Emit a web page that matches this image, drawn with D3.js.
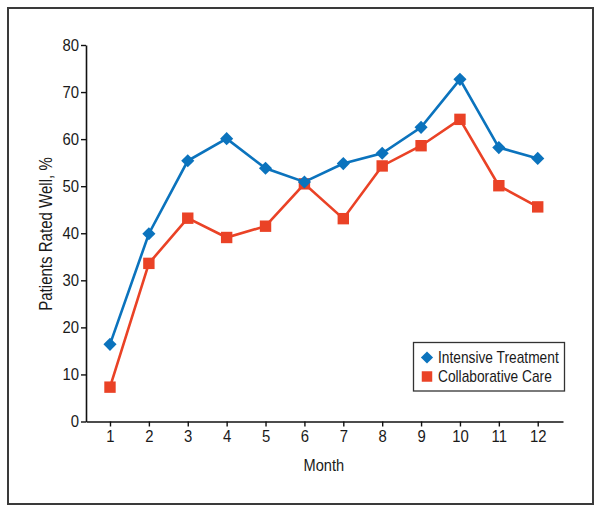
<!DOCTYPE html>
<html>
<head>
<meta charset="utf-8">
<script src="https://cdn.jsdelivr.net/npm/d3@7"></script>
<style>
  html, body { margin: 0; padding: 0; background: #fff; }
  svg text { font-family: "Liberation Sans", Arial, sans-serif; fill: #1a1a1a; }
</style>
</head>
<body>
<svg id="chart" width="602" height="513"></svg>
<script>
const months = [1, 2, 3, 4, 5, 6, 7, 8, 9, 10, 11, 12];
const intensive = [16.4, 39.9, 55.4, 60.1, 53.8, 50.9, 54.8, 57.0, 62.5, 72.7, 58.2, 55.9];
const collaborative = [7.3, 33.6, 43.2, 39.1, 41.5, 50.5, 43.1, 54.3, 58.6, 64.2, 50.1, 45.6];
const yTicks = [0, 10, 20, 30, 40, 50, 60, 70, 80];
const seriesNames = ["Intensive Treatment", "Collaborative Care"];
const colors = ["#0b73bd", "#ea4226"];
const SX = 0.86;   // horizontal condensing of titles/legend
const SXT = 0.93;  // horizontal condensing of tick digits

const svg = d3.select("#chart");

// outer frame
svg.append("rect").attr("x", 8).attr("y", 8).attr("width", 585).attr("height", 496)
  .attr("fill", "none").attr("stroke", "#3a3a3a").attr("stroke-width", 2);

const x = d3.scaleLinear().domain([0.383, 12.65]).range([86, 563]);
const y = d3.scaleLinear().domain([0, 80]).range([421.5, 45]);

function condense(sel, s) {
  sel.each(function () {
    const t = d3.select(this);
    const tx = +t.attr("x") || 0;
    t.attr("x", tx / s).attr("transform", `scale(${s},1)`);
  });
}

// y axis
const yAxis = svg.append("g").attr("transform", "translate(86,0)")
  .call(d3.axisLeft(y).tickValues(yTicks).tickSize(5).tickPadding(2).tickSizeOuter(0));
yAxis.select(".domain").attr("stroke", "#111").attr("stroke-width", 1.6);
yAxis.selectAll(".tick line").attr("stroke", "#111").attr("stroke-width", 1.4);
yAxis.selectAll("text").style("font-size", "16px").attr("fill", "#1a1a1a").call(condense, SXT);

// x axis
const xAxis = svg.append("g").attr("transform", "translate(0,421.5)")
  .call(d3.axisBottom(x).tickValues(months).tickFormat(d3.format("d")).tickSize(5).tickPadding(4).tickSizeOuter(0));
xAxis.select(".domain").attr("stroke", "#111").attr("stroke-width", 1.6);
xAxis.selectAll(".tick line").attr("stroke", "#111").attr("stroke-width", 1.4);
xAxis.selectAll("text").style("font-size", "16px").attr("fill", "#1a1a1a").call(condense, SXT);

// axis titles
svg.append("text").attr("transform", `translate(${x(6.5)},471) scale(${SX},1)`).attr("text-anchor", "middle")
  .style("font-size", "17px").text("Month");
svg.append("text").attr("transform", `translate(52,234) rotate(-90) scale(${SX},1)`).attr("text-anchor", "middle")
  .style("font-size", "17.5px").text("Patients Rated Well, %");

const line = d3.line().x(d => x(d[0])).y(d => y(d[1]));
const diamond = d3.symbol().type(d3.symbolDiamond2).size(110);
const square = d3.symbol().type(d3.symbolSquare).size(130);

const series = [intensive, collaborative];
[1, 0].forEach(i => {
  const data = months.map((m, j) => [m, series[i][j]]);
  svg.append("path").datum(data).attr("d", line)
    .attr("fill", "none").attr("stroke", colors[i]).attr("stroke-width", 2.6)
    .attr("stroke-linejoin", "miter");
  svg.append("g").selectAll("path").data(data).join("path")
    .attr("transform", d => `translate(${x(d[0])},${y(d[1])})`)
    .attr("d", i === 0 ? diamond : square)
    .attr("fill", colors[i]);
});

// legend
const lg = svg.append("g");
lg.append("rect").attr("x", 413.5).attr("y", 342.5).attr("width", 151).attr("height", 48.5)
  .attr("fill", "#fff").attr("stroke", "#333").attr("stroke-width", 1.3);
seriesNames.forEach((name, i) => {
  const cy = 357.5 + i * 19;
  lg.append("path").attr("transform", `translate(427,${cy})`)
    .attr("d", i === 0 ? d3.symbol().type(d3.symbolDiamond2).size(95)() : d3.symbol().type(d3.symbolSquare).size(110)())
    .attr("fill", colors[i]);
  lg.append("text").attr("transform", `translate(438,${cy + 5.5}) scale(${SX},1)`)
    .style("font-size", "16px").text(name);
});
</script>
</body>
</html>
